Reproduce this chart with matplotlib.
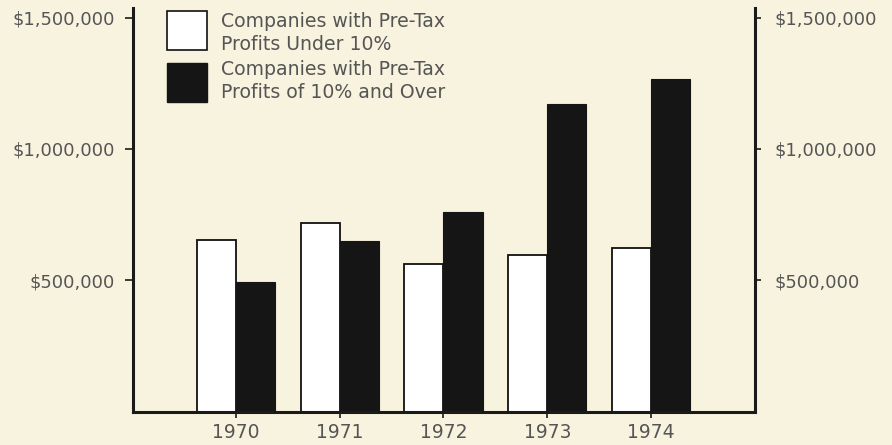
import matplotlib.pyplot as plt
from matplotlib.patches import Rectangle

years = ["1970", "1971", "1972", "1973", "1974"]
under_10 = [652000, 718000, 562000, 596000, 622000]
over_10 = [495000, 650000, 760000, 1170000, 1266000]
yticks = [500000, 1000000, 1500000]
ytick_labels = ["$500,000", "$1,000,000", "$1,500,000"]
legend_lines = [
    ["Companies with Pre-Tax", "Profits Under 10%"],
    ["Companies with Pre-Tax", "Profits of 10% and Over"],
]

bg = "#f8f3df"
txt = "#555555"
ink = "#1a1a1a"
plt.rcParams["font.family"] = "DejaVu Sans"

W, H = 892, 445
fig = plt.figure(figsize=(W / 100, H / 100), dpi=100, facecolor=bg)

# axes frame: left spine at x=133, right spine at x=755, bottom at y=411
left, right, bottom, top = 133, 755, 411.5, 8
ax = fig.add_axes([left / W, (H - bottom) / H, (right - left) / W, (bottom - top) / H])
ax.set_facecolor(bg)

x = list(range(len(years)))
w = 0.376
ax.bar([i - w / 2 for i in x], under_10, width=w, color="white",
       edgecolor="#111111", linewidth=1.3, zorder=2)
ax.bar([i + w / 2 for i in x], over_10, width=w, color="#151515",
       edgecolor="#151515", linewidth=0.8, zorder=2)

ymax = 500000 * (bottom - top) / 131.3
ax.set_ylim(0, ymax)
ax.set_xlim(-0.99, 5.0)

ax.spines["top"].set_visible(False)
for s in ["left", "bottom", "right"]:
    ax.spines[s].set_linewidth(2.2)
    ax.spines[s].set_color(ink)

ax.set_yticks(yticks)
ax.set_yticklabels(ytick_labels)
ax.set_xticks(x)
ax.set_xticklabels(years)
ax.tick_params(axis="both", colors=ink, labelcolor=txt, width=1.2, direction="out")
ax.tick_params(axis="y", length=6, pad=7, labelsize=12.9)
ax.tick_params(axis="x", length=4, pad=4, labelsize=13.5)

# same scale repeated on the right spine
ax2 = ax.twinx()
ax2.set_ylim(ax.get_ylim())
for s in ["top", "left", "bottom", "right"]:
    ax2.spines[s].set_visible(False)
ax2.set_yticks(yticks)
ax2.set_yticklabels(ytick_labels)
ax2.tick_params(axis="y", colors=ink, labelcolor=txt, width=1.2, direction="out",
                length=4, pad=10, labelsize=12.9)

# legend drawn as boxes with two-line captions
def fx(px):
    return px / W

def fy(py):
    return (H - py) / H

fig.patches.append(Rectangle((fx(167), fy(50)), 40 / W, 39 / H, transform=fig.transFigure,
                             facecolor="white", edgecolor="#111111", linewidth=1.2))
fig.patches.append(Rectangle((fx(167), fy(102)), 40 / W, 39 / H, transform=fig.transFigure,
                             facecolor="#151515", edgecolor="#151515", linewidth=1))
baselines = [[27, 50], [75, 98]]
for lines, ys in zip(legend_lines, baselines):
    for line, yb in zip(lines, ys):
        fig.text(fx(221), fy(yb), line, color=txt, fontsize=13.6,
                 va="baseline", ha="left")

fig.savefig("out.png", dpi=100, facecolor=bg)
